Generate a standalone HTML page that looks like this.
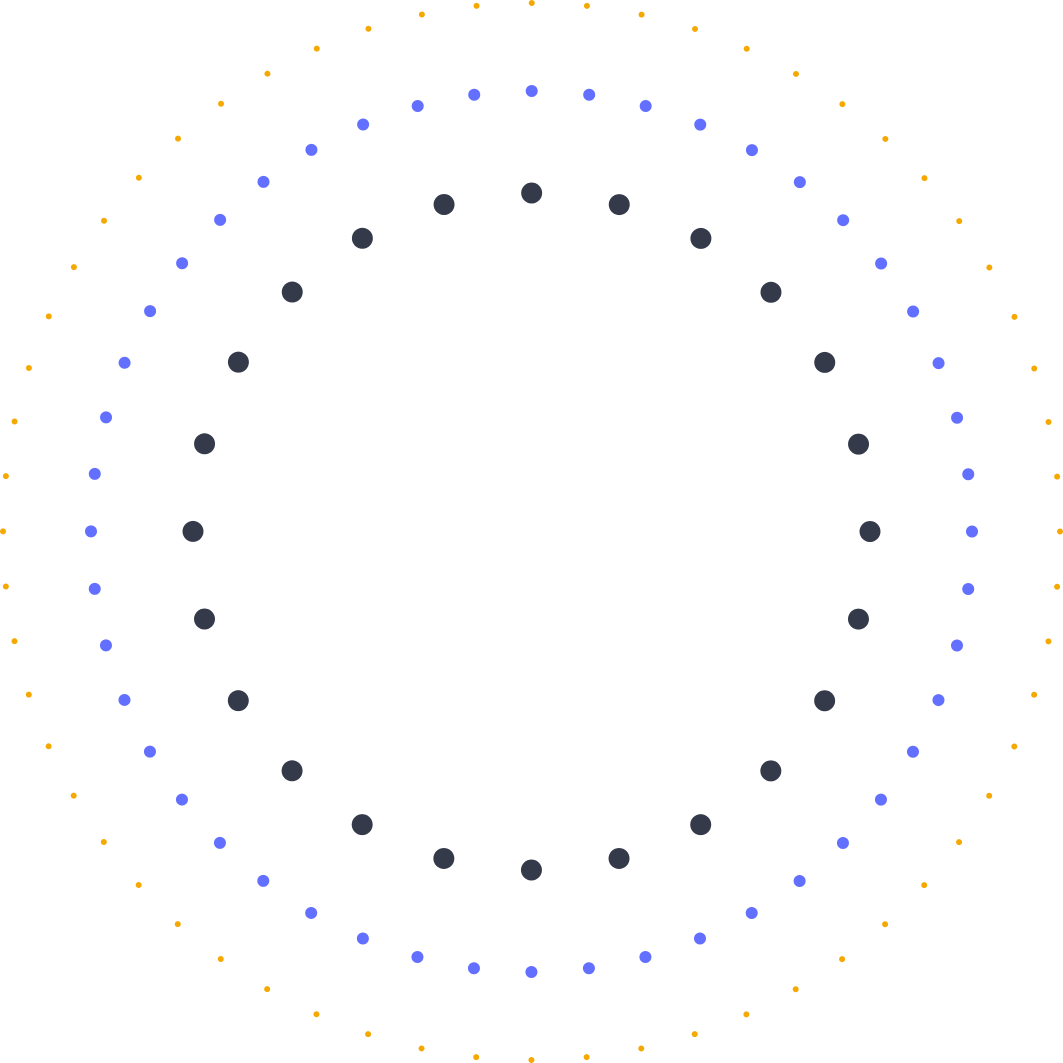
<!DOCTYPE html>
<html><head><meta charset="utf-8"><style>html,body{margin:0;padding:0;background:#fff}svg{display:block}</style></head>
<body>
<svg width="1063" height="1063" viewBox="0 0 1063 1063" xmlns="http://www.w3.org/2000/svg">
<circle cx="531.5" cy="531.5" r="528.5" fill="none" stroke="#f5a800" stroke-width="6" stroke-linecap="round" stroke-dasharray="0 55.3443"/>
<circle cx="531.5" cy="531.5" r="440.5" fill="none" stroke="#6370ff" stroke-width="12" stroke-linecap="round" stroke-dasharray="0 57.6612"/>
<circle cx="531.5" cy="531.5" r="338.5" fill="none" stroke="#343a4a" stroke-width="21" stroke-linecap="round" stroke-dasharray="0 88.6190"/>
</svg>
</body></html>
